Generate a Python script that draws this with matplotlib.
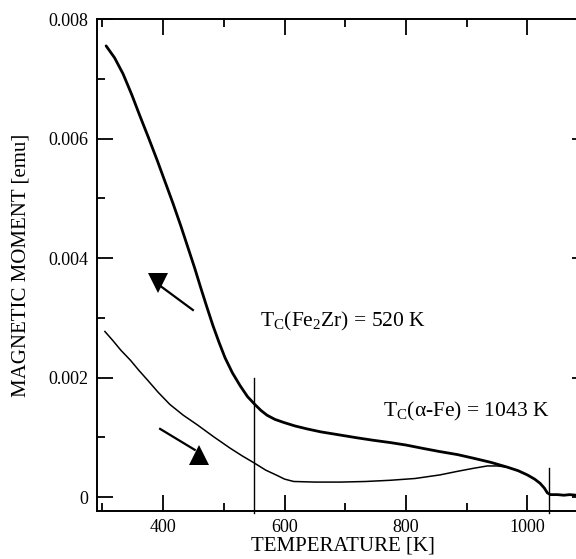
import matplotlib
matplotlib.use("Agg")
import matplotlib.pyplot as plt
from matplotlib.ticker import MultipleLocator, FixedLocator

plt.rcParams['font.family'] = ['Liberation Serif', 'DejaVu Serif']
plt.rcParams['mathtext.fontset'] = 'custom'
plt.rcParams['mathtext.rm'] = 'Liberation Serif'
plt.rcParams['mathtext.it'] = 'Liberation Serif:italic'

# cooling curve (upper)
cool_T = [306, 320, 334, 348, 362, 376, 390, 403, 416, 429, 441, 452, 462, 472,
          482, 492, 502, 514, 527, 539, 551, 561, 571, 584, 598, 617, 637, 660,
          690, 720, 746, 775, 800, 830, 856, 885, 911, 940, 967, 985, 1000, 1012,
          1021, 1028, 1033, 1038, 1050, 1060, 1070, 1081]
cool_M = [0.00755, 0.00735, 0.00708, 0.00674, 0.00637, 0.00601, 0.00564, 0.00528,
          0.00492, 0.00454, 0.00417, 0.00383, 0.00350, 0.00318, 0.00287, 0.00259,
          0.00233, 0.00208, 0.00186, 0.00168, 0.00155, 0.00145, 0.00137, 0.00130,
          0.00125, 0.00119, 0.00114, 0.00109, 0.00104, 0.00099, 0.00095, 0.00091,
          0.00087, 0.00081, 0.00076, 0.00071, 0.00065, 0.00058, 0.00050, 0.00044,
          0.00037, 0.00030, 0.00023, 0.00015, 0.00007, 0.00004, 0.00004, 0.00003,
          0.00004, 0.00003]

# heating curve (lower)
heat_T = [304, 317, 330, 346, 360, 374, 392, 411, 433, 456, 483, 510, 530, 550,
          569, 588, 600, 615, 650, 692, 734, 774, 815, 856, 885, 911, 934, 950, 967]
heat_M = [0.00277, 0.00262, 0.00246, 0.00229, 0.00212, 0.00196, 0.00175, 0.00155,
          0.00137, 0.00121, 0.00101, 0.00082, 0.00069, 0.00057, 0.00045, 0.00036,
          0.00030, 0.00026, 0.00025, 0.00025, 0.00026, 0.00028, 0.00031, 0.00037,
          0.00043, 0.00048, 0.00052, 0.00052, 0.00050]

x_major = [400, 600, 800, 1000]
x_minor = [300, 500, 700, 900]
y_major = [0, 0.002, 0.004, 0.006, 0.008]
y_labels = ['0', '0.002', '0.004', '0.006', '0.008']

tc_lines_T = [550, 1035]
tc_lines_top = [0.0020, 0.00048]

fig = plt.figure(figsize=(5.76, 5.59), dpi=100)
ax = fig.add_axes([97/576, 48/559, 491/576, 492/559])

ax.plot(cool_T, cool_M, color='black', lw=2.0, solid_capstyle='round',
        solid_joinstyle='round')
ax.plot(heat_T, heat_M, color='black', lw=1.1, solid_joinstyle='round')

for T, top in zip(tc_lines_T, tc_lines_top):
    ax.plot([T, T], [-0.00027, top], color='black', lw=1.0, clip_on=False)

# arrows (xmgrace style)
ax.plot([449, 397], [0.00313, 0.00352], color='black', lw=1.6)
ax.plot([392], [0.00359], marker='v', color='black', ms=14, mew=0)
ax.plot([395, 452], [0.00114, 0.00079], color='black', lw=1.6)
ax.plot([459], [0.00070], marker='^', color='black', ms=15, mew=0)

ax.text(560, 0.00285, r'T$_\mathrm{C}$(Fe$_2$Zr) = 520 K', fontsize=15.5,
        ha='left', va='baseline')
ax.text(763, 0.00134, r'T$_\mathrm{C}$(α-Fe) = 1043 K', fontsize=15.5,
        ha='left', va='baseline')

ax.set_xlim(291, 1100)
ax.set_ylim(-0.000234, 0.008)
ax.xaxis.set_major_locator(FixedLocator(x_major))
ax.xaxis.set_minor_locator(FixedLocator(x_minor))
ax.set_xticklabels([str(v) for v in x_major])
ax.yaxis.set_major_locator(FixedLocator(y_major))
ax.yaxis.set_minor_locator(MultipleLocator(0.001))
ax.set_yticklabels(y_labels)

ax.tick_params(which='both', direction='in', top=True, right=True,
               width=1.3, labelsize=13, pad=6)
ax.tick_params(which='major', length=11.5)
ax.tick_params(which='minor', length=6)
for s in ax.spines.values():
    s.set_linewidth(1.4)

ax.set_xlabel('TEMPERATURE [K]', fontsize=15, labelpad=0)
ax.set_ylabel('MAGNETIC MOMENT [emu]', fontsize=15, labelpad=13)

fig.savefig('out.png', dpi=100)
